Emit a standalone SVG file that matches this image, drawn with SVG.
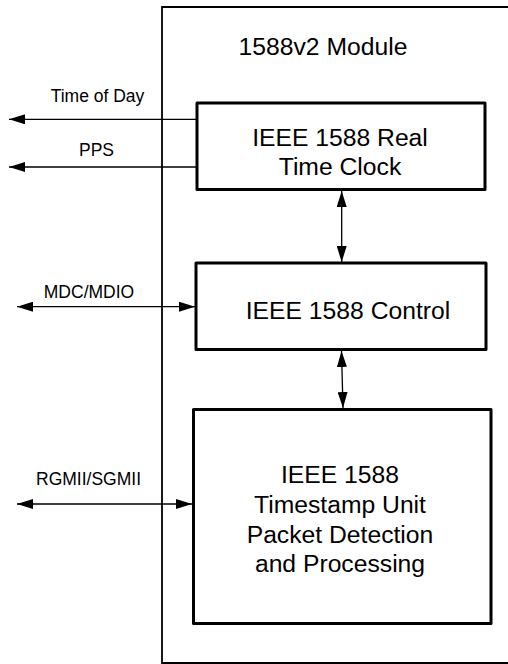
<svg xmlns="http://www.w3.org/2000/svg" width="508" height="664" viewBox="0 0 508 664">
<defs>
<style>
.box{fill:#fff;stroke:#000;stroke-width:3;stroke-linejoin:round}
.big{font-family:"Liberation Sans",Arial,sans-serif;font-size:24.7px;fill:#000;text-anchor:middle}
.lbl{font-family:"Liberation Sans",Arial,sans-serif;font-size:17.5px;fill:#000;text-anchor:middle}
.conn{stroke:#000;stroke-width:1.3;fill:none}
</style>
<marker id="ah" viewBox="0 0 16 10" refX="16" refY="5" markerWidth="16" markerHeight="10" markerUnits="userSpaceOnUse" orient="auto-start-reverse">
<path d="M0,0 L16,5 L0,10 Z" fill="#000"/>
</marker>
</defs>
<rect width="508" height="664" fill="#fff"/>
<g id="module">
<path d="M512,7 H162 V663 H512" fill="none" stroke="#000" stroke-width="1.8"/>
<text class="big" x="323" y="55">1588v2 Module</text>
</g>
<g id="connectors">
<line class="conn" x1="197" y1="119.3" x2="9" y2="119.3" marker-end="url(#ah)"/>
<line class="conn" x1="197" y1="167" x2="9" y2="167" marker-end="url(#ah)"/>
<line class="conn" x1="17" y1="306.7" x2="195" y2="306.7" marker-start="url(#ah)" marker-end="url(#ah)"/>
<line class="conn" x1="17" y1="504" x2="192" y2="504" marker-start="url(#ah)" marker-end="url(#ah)"/>
<line class="conn" x1="341.7" y1="191" x2="341.7" y2="262" marker-start="url(#ah)" marker-end="url(#ah)"/>
<line class="conn" x1="341.5" y1="351" x2="343" y2="408" marker-start="url(#ah)" marker-end="url(#ah)"/>
<text class="lbl" x="97.5" y="102">Time of Day</text>
<text class="lbl" x="96.5" y="156">PPS</text>
<text class="lbl" x="89" y="298">MDC/MDIO</text>
<text class="lbl" x="88.5" y="485">RGMII/SGMII</text>
</g>
<g id="rtc">
<rect class="box" x="197" y="103" width="288" height="86.5"/>
<text class="big" x="340" y="146">IEEE 1588 Real</text>
<text class="big" x="340" y="175">Time Clock</text>
</g>
<g id="control">
<rect class="box" x="196" y="263" width="290" height="86.5"/>
<text class="big" x="348" y="319">IEEE 1588 Control</text>
</g>
<g id="timestamp">
<rect class="box" x="193.5" y="409.5" width="297.5" height="214"/>
<text class="big" x="340" y="483">IEEE 1588</text>
<text class="big" x="340" y="513">Timestamp Unit</text>
<text class="big" x="340" y="543">Packet Detection</text>
<text class="big" x="340" y="572">and Processing</text>
</g>
</svg>
